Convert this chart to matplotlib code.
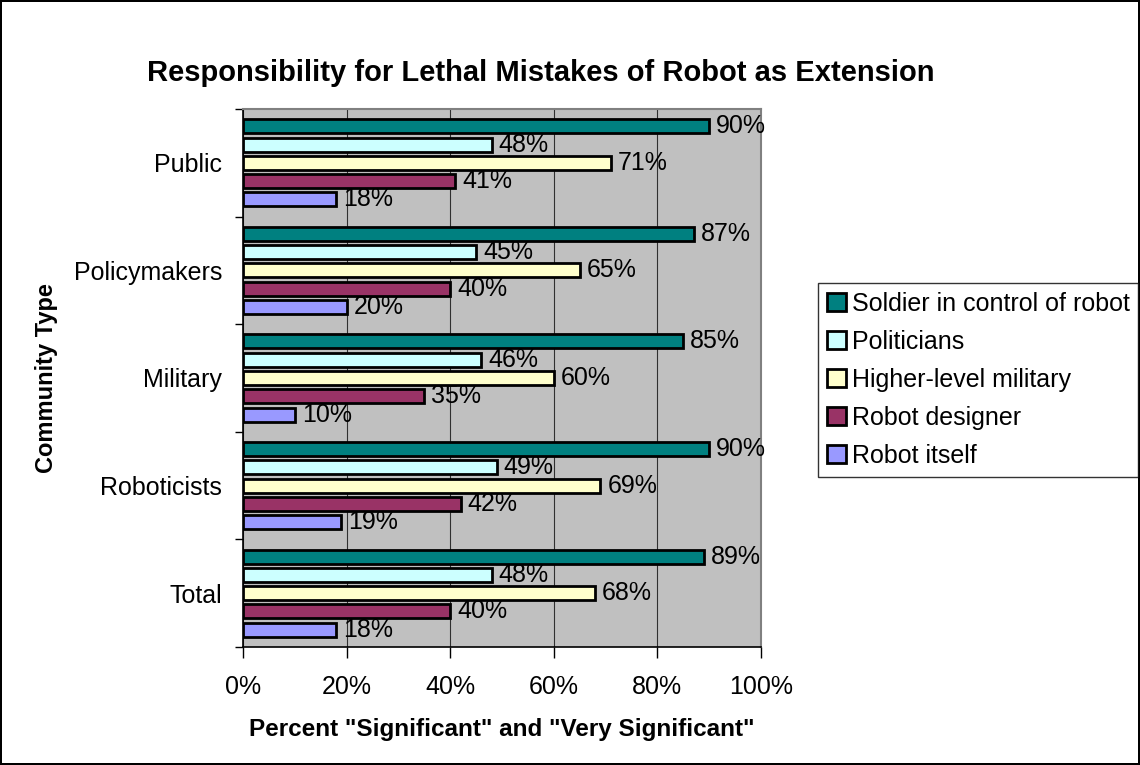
import numpy as np
import matplotlib
matplotlib.use("Agg")
import matplotlib.pyplot as plt

plt.rcParams['font.family'] = ['Liberation Sans', 'DejaVu Sans']

# community groups, top to bottom
groups = ['Public', 'Policymakers', 'Military', 'Roboticists', 'Total']

# series (top bar first within each group)
series = ['Soldier in control of robot', 'Politicians', 'Higher-level military',
          'Robot designer', 'Robot itself']
colors = ['#008080', '#CCFFFF', '#FFFFCC', '#993366', '#9999FF']

soldier = [90, 87, 85, 90, 89]
politicians = [48, 45, 46, 49, 48]
higher_mil = [71, 65, 60, 69, 68]
designer = [41, 40, 35, 42, 40]
robot = [18, 20, 10, 19, 18]
values = [soldier, politicians, higher_mil, designer, robot]

fig = plt.figure(figsize=(11.4, 7.65), dpi=100)
fig.patch.set_edgecolor('black')
fig.patch.set_linewidth(1.5)

ax = fig.add_axes([243 / 1140, 1 - 647 / 765, (761 - 243) / 1140, (647 - 109) / 765])
ax.set_facecolor('#C0C0C0')

n = len(groups)
centers = np.arange(n)[::-1] + 0.5   # Public on top
pitch = 0.17
height = 0.13
for i, (name, col, vals) in enumerate(zip(series, colors, values)):
    offset = (2 - i) * pitch
    bars = ax.barh(centers + offset, vals, height=height, color=col,
                   edgecolor='black', linewidth=2, label=name, zorder=3)
    ax.bar_label(bars, labels=[f"{v}%" for v in vals], padding=5,
                 fontsize=18, zorder=4)

ax.set_xlim(0, 100)
ax.set_ylim(0, n)
ax.set_xticks(np.arange(0, 101, 20))
ax.set_xticklabels([f"{t}%" for t in range(0, 101, 20)], fontsize=18)
ax.set_yticks(np.arange(n + 1))
ax.set_yticklabels([])
ax.set_yticks(centers, minor=True)
ax.set_yticklabels(groups, minor=True, fontsize=18)
ax.tick_params(axis='y', which='minor', length=0, pad=15)
ax.tick_params(axis='y', which='major', length=6, width=1, direction='out')
ax.tick_params(axis='x', length=8, width=1, direction='out', pad=12)
ax.grid(axis='x', color='#303030', linewidth=0.8, zorder=1)

for s in ['top', 'right']:
    ax.spines[s].set_color('#808080')
    ax.spines[s].set_linewidth(1.5)
for s in ['left', 'bottom']:
    ax.spines[s].set_color('black')
    ax.spines[s].set_linewidth(1.2)

ax.set_xlabel('Percent "Significant" and "Very Significant"', fontsize=17.5,
              fontweight='bold', labelpad=14)
fig.text(47 / 1140, 1 - 378 / 765, 'Community Type', rotation=90, fontsize=17,
         fontweight='bold', ha='center', va='center')
fig.text(541 / 1140, 1 - 73 / 765, 'Responsibility for Lethal Mistakes of Robot as Extension',
         fontsize=21, fontweight='bold', ha='center', va='center')

leg = ax.legend(loc='upper left', bbox_to_anchor=(818 / 1140, 1 - 283 / 765),
                bbox_transform=fig.transFigure, fontsize=18, frameon=True,
                fancybox=False, edgecolor='black', handlelength=0.75,
                handleheight=0.75, handletextpad=0.25, labelspacing=0.56,
                borderpad=0.35, borderaxespad=0)
leg.get_frame().set_linewidth(1.0)

fig.savefig('out.png', dpi=100)
